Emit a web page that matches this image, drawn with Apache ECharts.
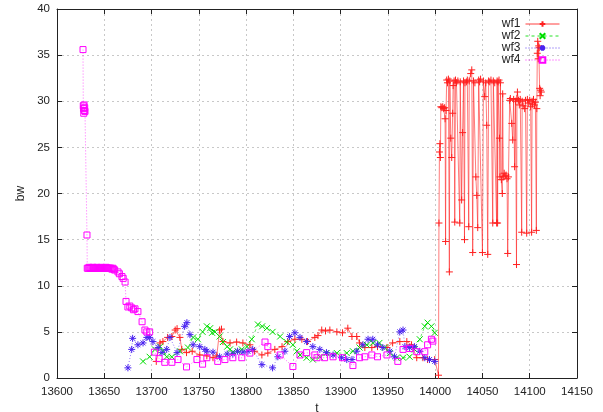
<!DOCTYPE html>
<html>
<head>
<meta charset="utf-8">
<script src="https://cdn.jsdelivr.net/npm/echarts@6/dist/echarts.min.js"></script>
<style>
  html, body { margin: 0; padding: 0; background: #fff; }
  #chart { width: 603px; height: 412px; }
</style>
</head>
<body>
<div id="chart"></div>
<script>
  // readings [t, bw] off the picture
  var wf1 = [
    [13705, 1.8], [13709, 3.8], [13712, 3.95], [13717, 4.4], [13721.5, 4.5], [13725, 5.2], [13727, 5.35],
    [13730, 4.4], [13732, 3.1], [13737, 2.75], [13743, 2.9], [13751, 2.5], [13758.5, 2.4], [13765, 2.2],
    [13769, 2.4], [13772, 5.2], [13774, 5.3], [13775.5, 3.95], [13783, 3.8], [13790, 3.9], [13796.6, 3.8],
    [13804, 3.6], [13809, 2.9], [13816.7, 2.5], [13823, 2.7], [13830.4, 3.1], [13838, 3.4], [13844, 3.95],
    [13851.6, 4.2], [13859, 4.2], [13865, 3.95], [13872.7, 4.4], [13876, 4.6], [13880, 5.2], [13884, 5.1],
    [13888.6, 5.2], [13896, 5.0], [13902, 4.9], [13907.6, 5.4], [13912, 4.5], [13917, 4.5], [13920, 3.8],
    [13925.6, 3.3], [13933, 3.3], [13939, 3.4], [13949, 3.3], [13955, 3.8], [13962.6, 3.95], [13970, 3.95],
    [13975, 3.6], [13980.5, 2.2], [13987, 2.2], [13992, 2.0], [13999.5, 2.0],
    [14003.5, 0.3], [14004, 16.8], [14004.5, 24.5], [14005, 25.4], [14005.5, 23.9], [14006, 29.4], [14007, 29.3],
    [14008, 29.4], [14009, 29.2], [14010, 29.3], [14010.5, 28.1], [14011, 14.8], [14011.5, 29.0], [14012.2, 32.3],
    [14013, 32.0], [14014, 32.4], [14015, 11.5], [14015.5, 32.2], [14016.5, 26.0], [14017.5, 23.9], [14018.5, 28.7],
    [14019, 31.7], [14020, 32.2], [14020.7, 16.9], [14021.5, 32.3], [14022.5, 32.0], [14024, 32.2], [14026, 16.8],
    [14026.5, 32.1], [14028, 19.3], [14029, 26.6], [14030, 32.2], [14031, 15.0], [14031.5, 32.0], [14033, 32.1],
    [14034, 32.3], [14035.5, 16.4], [14036, 32.2], [14037.6, 33.0], [14038.7, 33.4], [14039.7, 13.6], [14040.5, 32.2],
    [14042, 32.0], [14043, 21.8], [14044, 19.8], [14045, 16.3], [14046, 32.3], [14047, 32.1], [14048, 32.4],
    [14050, 13.6], [14051, 32.2], [14052.4, 30.5], [14053.5, 32.0], [14054.5, 27.4], [14055.6, 13.4], [14056.5, 32.2],
    [14057.7, 32.1], [14059, 32.3], [14060.9, 16.8], [14061.5, 32.2], [14063, 32.0], [14065, 16.8], [14065.5, 32.2],
    [14066, 16.8], [14066.5, 32.1], [14067.5, 32.3], [14068, 26.0], [14068.5, 21.8], [14069, 32.0], [14070, 21.5],
    [14071, 20.0], [14071.4, 30.8], [14072, 21.8], [14073, 22.2], [14074, 21.9], [14075, 22.0], [14076, 21.6],
    [14076.7, 13.5], [14077.5, 21.8], [14078.8, 30.1], [14079.5, 30.3], [14081, 27.6], [14082, 25.8], [14083, 30.2],
    [14084, 22.9], [14085, 30.0], [14086, 12.3], [14086.5, 30.3], [14087, 31.0], [14088, 30.1], [14089, 29.6],
    [14090, 30.2], [14091.5, 15.8], [14092, 30.0], [14093, 29.5], [14094.7, 29.2], [14095.5, 30.1], [14096.8, 15.7],
    [14097.5, 30.2], [14098.5, 29.8], [14100, 30.1], [14101, 29.4], [14102, 15.8], [14102.5, 30.0], [14103, 29.7],
    [14104, 30.2], [14105, 29.6], [14106, 29.9], [14107, 16.0], [14107.5, 29.2], [14108, 35.2], [14108.5, 36.5],
    [14109, 34.6], [14109.5, 36.0], [14110, 35.8], [14110.5, 31.4], [14111, 30.6], [14111.5, 31.2], [14112.3, 31.0]
  ];
  var wf2 = [
    [13691, 1.8], [13698, 2.3], [13703.6, 3.1], [13709, 3.4], [13712, 2.9], [13716, 2.3], [13721.5, 2.3],
    [13730, 2.9], [13738.5, 3.3], [13744, 4.4], [13749, 4.2], [13754, 5.0], [13758.5, 5.6], [13762, 5.4],
    [13764, 4.9], [13767, 5.0], [13772, 4.5], [13775.5, 3.9], [13780, 3.4], [13783, 3.1], [13786, 2.8],
    [13791, 2.9], [13795.5, 3.1], [13801, 3.4], [13806, 4.2], [13812.5, 5.8], [13817, 5.6], [13822, 5.4],
    [13828, 5.0], [13836, 4.5], [13843, 3.9], [13849.5, 3.6], [13853.7, 2.9], [13857, 2.5], [13864, 2.2],
    [13870.6, 2.0], [13878, 2.3], [13885, 2.7], [13896, 2.7], [13906.5, 2.7], [13913, 2.9], [13920, 3.3],
    [13927.7, 3.6], [13934, 3.8], [13941, 3.8], [13946.7, 3.3], [13952, 2.7], [13959.4, 2.2], [13966, 2.2],
    [13973, 2.3], [13978, 3.1], [13983.7, 4.2], [13989, 5.6], [13992, 6.0], [13996, 5.6], [13999.5, 4.9]
  ];
  var wf3 = [
    [13675, 1.1], [13679, 3.1], [13680, 4.3], [13685.6, 3.6], [13691, 3.8], [13695, 4.4], [13698, 4.4],
    [13701.5, 3.95], [13707, 3.3], [13711, 2.75], [13716, 3.1], [13719.5, 4.4], [13727, 2.75], [13735, 5.6],
    [13737.4, 6.0], [13740.6, 4.7], [13744, 3.6], [13751, 3.4], [13756.4, 3.1], [13758.5, 2.9], [13765, 2.8],
    [13772, 2.3], [13780, 2.6], [13786, 2.6], [13791, 2.9], [13796.6, 2.8], [13802, 2.9], [13807, 3.1],
    [13816.7, 1.45], [13828, 1.1], [13833.6, 2.3], [13841, 2.9], [13846, 4.5], [13851.6, 4.9], [13857, 4.4],
    [13864, 3.95], [13870.6, 3.4], [13878, 3.1], [13885, 2.75], [13892, 2.5], [13901, 2.2], [13906.5, 2.0],
    [13912, 2.0], [13917, 2.9], [13923.5, 3.6], [13929, 4.2], [13934, 4.2], [13939, 3.6], [13944.6, 3.3],
    [13952, 2.9], [13957, 2.3], [13962.6, 5.0], [13966, 5.2], [13968, 3.4], [13973, 3.3], [13978, 3.4],
    [13983.7, 2.9], [13989, 2.2], [13994, 2.0], [13999.5, 1.8]
  ];
  var wf4 = [
    [13627.5, 35.6], [13627.8, 29.5], [13628, 29.2], [13628.3, 28.7], [13628.6, 29.6], [13629, 29.0],
    [13629.3, 29.3], [13629.6, 28.9], [13631.7, 15.5], [13632, 11.9], [13633, 11.9], [13634, 12.0],
    [13635, 11.9], [13636, 11.9], [13637, 11.9], [13638, 12.0], [13639, 11.9], [13640, 11.9], [13641, 11.9],
    [13642, 12.0], [13643, 11.9], [13644, 11.9], [13645, 11.9], [13646, 11.9], [13647, 12.0], [13648, 11.9],
    [13649, 11.9], [13650, 11.9], [13651, 11.9], [13652, 12.0], [13653, 11.9], [13654, 11.9], [13655, 11.9],
    [13656, 11.9], [13657, 11.9], [13658, 11.8], [13659, 11.9], [13660, 11.8], [13661, 11.7],
    [13664.5, 11.5], [13666, 11.3], [13668.7, 11.0], [13670, 10.8], [13672, 10.4], [13673, 8.3], [13675, 7.7],
    [13677, 7.8], [13679, 7.6], [13681, 7.4], [13682.5, 7.5], [13685.6, 7.2], [13690, 6.1], [13693, 5.2],
    [13695, 5.0], [13698, 5.0], [13703, 2.8], [13708, 2.1], [13714, 1.7], [13721.5, 1.7], [13728, 2.0],
    [13737, 1.2], [13748, 2.0], [13754, 1.5], [13758.5, 2.2], [13770, 1.8], [13777.6, 2.0], [13786, 2.2],
    [13795.5, 2.2], [13804, 2.7], [13820, 3.9], [13823, 3.4], [13836, 2.5], [13849.5, 1.25], [13857, 2.5],
    [13864, 2.75], [13872.7, 2.5], [13875, 2.2], [13883, 2.2], [13892, 2.3], [13902, 2.2], [13913, 1.35],
    [13920, 2.2], [13925.6, 2.3], [13933, 2.5], [13939, 2.3], [13949, 2.5], [13960.5, 1.8], [13966, 3.1],
    [13973, 3.2], [13980.5, 2.85], [13989, 2.85], [13992, 3.6], [13996, 4.2], [13997.5, 4.0]
  ];
  var seriesNames = ['wf1', 'wf2', 'wf3', 'wf4'];

  var plusPath = 'path://M5 0L5 10M0 5L10 5';
  var crossPath = 'path://M0 0L10 10M10 0L0 10';
  var starPath = 'path://M5 0L5 10M0 5L10 5M1.5 1.5L8.5 8.5M8.5 1.5L1.5 8.5';
  var squarePath = 'path://M0 0L10 0L10 10L0 10Z';

  function makeSeries(name, data, color, symbol, size, lineType) {
    return {
      name: name,
      type: 'line',
      data: data,
      symbol: symbol,
      symbolSize: size,
      showAllSymbol: true,
      lineStyle: { color: color, width: 0.7, type: lineType, opacity: 0.85 },
      itemStyle: { color: 'rgba(0,0,0,0)', borderColor: color, borderWidth: 1 },
      emphasis: { disabled: true }
    };
  }

  var myChart = echarts.init(document.getElementById('chart'));
  var axisColor = '#222';
  var labelFont = 'Liberation Sans, Arial, sans-serif';
  var plain = function (v) { return String(v); };

  myChart.setOption({
    animation: false,
    backgroundColor: '#fff',
    grid: { left: 57, right: 26, top: 9, bottom: 34, outerBoundsMode: 'none' },
    legend: {
      data: seriesNames,
      orient: 'vertical',
      align: 'right',
      right: 38,
      top: 13,
      itemWidth: 34,
      itemHeight: 7,
      itemGap: 0,
      lineStyle: { width: 1 },
      textStyle: { fontFamily: labelFont, fontSize: 12, color: '#222', lineHeight: 12 }
    },
    xAxis: [{
      type: 'value', min: 13600, max: 14150, interval: 50, position: 'bottom',
      name: 't', nameLocation: 'middle', nameGap: 21,
      nameTextStyle: { fontFamily: labelFont, fontSize: 12, color: axisColor },
      axisLine: { show: true, onZero: false, lineStyle: { color: axisColor, width: 1 } },
      axisTick: { show: true, inside: true, length: 5, lineStyle: { color: axisColor } },
      axisLabel: { fontFamily: labelFont, fontSize: 11.5, color: axisColor, margin: 8, formatter: plain },
      splitLine: { show: true, lineStyle: { type: [2, 3], color: '#c8c8c8' } }
    }, {
      type: 'value', min: 13600, max: 14150, interval: 50, position: 'top',
      axisLine: { show: true, onZero: false, lineStyle: { color: axisColor, width: 1 } },
      axisTick: { show: true, inside: true, length: 5, lineStyle: { color: axisColor } },
      axisLabel: { show: false },
      splitLine: { show: false }
    }],
    yAxis: [{
      type: 'value', min: 0, max: 40, interval: 5, position: 'left',
      name: 'bw', nameLocation: 'middle', nameGap: 30, nameRotate: 90,
      nameTextStyle: { fontFamily: labelFont, fontSize: 12, color: axisColor },
      axisLine: { show: true, onZero: false, lineStyle: { color: axisColor, width: 1 } },
      axisTick: { show: true, inside: true, length: 5, lineStyle: { color: axisColor } },
      axisLabel: { fontFamily: labelFont, fontSize: 11.5, color: axisColor, margin: 7, formatter: plain },
      splitLine: { show: true, lineStyle: { type: [2, 3], color: '#c8c8c8' } }
    }, {
      type: 'value', min: 0, max: 40, interval: 5, position: 'right',
      axisLine: { show: true, onZero: false, lineStyle: { color: axisColor, width: 1 } },
      axisTick: { show: true, inside: true, length: 5, lineStyle: { color: axisColor } },
      axisLabel: { show: false },
      splitLine: { show: false }
    }],
    series: [
      makeSeries('wf1', wf1, '#ff2020', plusPath, 7, 'solid'),
      makeSeries('wf2', wf2, '#00dd00', crossPath, 6, [3, 3]),
      makeSeries('wf3', wf3, '#4a22f0', starPath, 7, [1, 2]),
      makeSeries('wf4', wf4, '#ff00ff', squarePath, 6, [1, 2])
    ]
  });
  window.onresize = () => myChart.resize()
</script>
</body>
</html>
